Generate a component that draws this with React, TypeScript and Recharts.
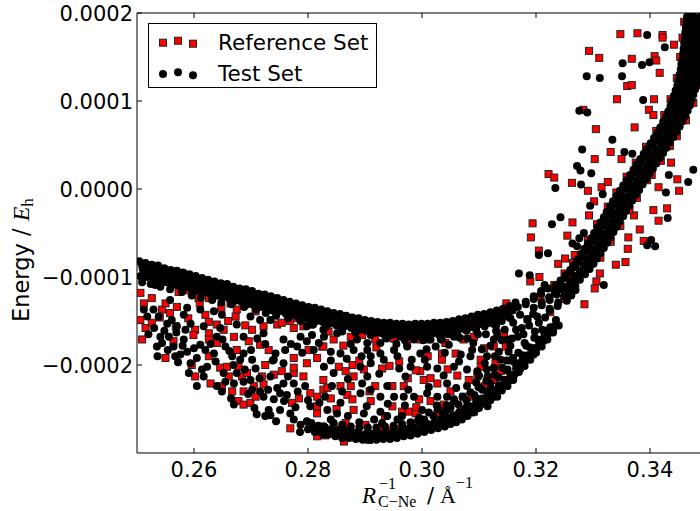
import React from 'react';
import { ScatterChart, Scatter, XAxis, YAxis, ReferenceLine, Legend } from 'recharts';

// Axis settings (x in Å^-1, y in Hartree)
const xDomain: [number, number] = [0.25, 0.35];
const yDomain: [number, number] = [-0.0003, 0.0002];
const xTicks = [0.26, 0.28, 0.3, 0.32, 0.34];
const yTicks = [-0.0002, -0.0001, 0, 0.0001, 0.0002];
const seriesNames = ['Reference Set', 'Test Set'];

// Points in units of [mÅ^-1, μEh]
const testUpperBand: [number, number][] = [
  [250.4,-82],[251.5,-84],[252.6,-86],[253.7,-87],[254.8,-90],[255.9,-92],[257.0,-93],[258.1,-95],[259.2,-97],[260.3,-99],
  [261.4,-101],[262.5,-103],[263.6,-105],[264.7,-107],[265.8,-108],[266.9,-111],[268.0,-113],[269.1,-114],[270.2,-116],[271.3,-119],
  [272.4,-120],[273.5,-122],[274.6,-124],[275.7,-126],[276.8,-128],[277.9,-130],[279.0,-132],[280.1,-134],[281.2,-135],[282.3,-137],
  [283.4,-139],[284.5,-141],[285.6,-142],[286.7,-144],[287.8,-146],[288.9,-147],[290.0,-149],[291.1,-150],[292.2,-151],[293.3,-152],
  [294.4,-152],[295.5,-153],[296.6,-153],[297.7,-154],[298.8,-153],[299.9,-153],[301.0,-153],[302.1,-152],[303.2,-152],[304.3,-151],
  [305.4,-150],[306.5,-148],[307.6,-147],[308.7,-145],[309.8,-143],[310.9,-142],[312.0,-140],[313.1,-138],[314.2,-136],[315.3,-133],[316.4,-129],
  [250.9,-87],[252.0,-89],[253.1,-90],[254.2,-92],[255.3,-95],[256.4,-96],[257.5,-98],[258.6,-100],[259.7,-102],[260.8,-104],
  [261.9,-106],[263.0,-108],[264.1,-110],[265.2,-111],[266.3,-113],[267.4,-116],[268.5,-117],[269.6,-119],[270.7,-121],[271.8,-123],
  [272.9,-125],[274.0,-127],[275.1,-129],[276.2,-131],[277.3,-133],[278.4,-135],[279.5,-137],[280.6,-139],[281.7,-140],[282.8,-142],
  [283.9,-144],[285.0,-146],[286.1,-147],[287.2,-149],[288.3,-150],[289.4,-152],[290.5,-153],[291.6,-155],[292.7,-155],[293.8,-156],
  [294.9,-157],[296.0,-157],[297.1,-158],[298.2,-158],[299.3,-158],[300.4,-157],[301.5,-157],[302.6,-156],[303.7,-156],[304.8,-155],
  [305.9,-153],[307.0,-152],[308.1,-150],[309.2,-149],[310.3,-147],[311.4,-145],[312.5,-143],[313.6,-141],[314.7,-138],[315.8,-135],
  [251.0,-91],[252.1,-93],[253.2,-95],[254.3,-96],[255.4,-99],[256.5,-101],[257.6,-102],[258.7,-104],[259.8,-106],[260.9,-108],
  [262.0,-110],[263.1,-112],[264.2,-114],[265.3,-115],[266.4,-117],[267.5,-120],[268.6,-121],[269.7,-123],[270.8,-125],[271.9,-127],
  [273.0,-129],[274.1,-130],[275.2,-133],[276.3,-134],[277.4,-136],[278.5,-139],[279.6,-140],[280.7,-142],[281.8,-144],[282.9,-146],
  [284.0,-147],[285.1,-149],[286.2,-150],[287.3,-152],[288.4,-154],[289.5,-155],[290.6,-156],[291.7,-158],[292.8,-159],[293.9,-160],
  [295.0,-160],[296.1,-161],[297.2,-161],[298.3,-161],[299.4,-161],[300.5,-161],[301.6,-160],[302.7,-160],[303.8,-159],[304.9,-158],
  [306.0,-157],[307.1,-155],[308.2,-153],[309.3,-152],[310.4,-150],[311.5,-148],[312.6,-146],[313.7,-144],[314.8,-141],[315.9,-138],
  [251.3,-96],[252.4,-98],[253.5,-100],[254.6,-102],[255.7,-104],[256.8,-106],[257.9,-107],[259.0,-109],[260.1,-111],[261.2,-113],
  [262.3,-115],[263.4,-117],[264.5,-119],[265.6,-120],[266.7,-122],[267.8,-125],[268.9,-126],[270.0,-128],[271.1,-130],[272.2,-132],
  [273.3,-134],[274.4,-136],[275.5,-138],[276.6,-139],[277.7,-141],[278.8,-143],[279.9,-145],[281.0,-147],[282.1,-148],[283.2,-150],
  [284.3,-152],[285.4,-154],[286.5,-155],[287.6,-157],[288.7,-159],[289.8,-160],[290.9,-162],[292.0,-163],[293.1,-163],[294.2,-164],
  [295.3,-165],[296.4,-165],[297.5,-165],[298.6,-165],[299.7,-165],[300.8,-165],[301.9,-164],[303.0,-164],[304.1,-163],[305.2,-162],
  [306.3,-160],[307.4,-159],[308.5,-157],[309.6,-155],[310.7,-154],[311.8,-152],[312.9,-150],[314.0,-147],[315.1,-145],
  [250.6,-99],[251.8,-100],[253.0,-103],[254.0,-104],[255.2,-106],[256.2,-109],[257.3,-110],[258.4,-112],[259.5,-114],[260.6,-115],
  [261.7,-118],[262.8,-119],[263.9,-121],[265.0,-123],[266.1,-124],[267.2,-127],[268.3,-128],[269.4,-131],[270.5,-132],[271.6,-134],
  [272.7,-136],[273.8,-138],[274.9,-139],[276.0,-141],[277.1,-143],[278.2,-145],[279.3,-147],[280.4,-148],[281.5,-150],[282.6,-151],
  [283.7,-153],[285.0,-155],[286.4,-156],[287.6,-158],[289.0,-160],[290.3,-161],[291.5,-163],[293.0,-164],[294.6,-166],[296.0,-166],
  [297.8,-167],[299.5,-167],[301.2,-167],[303.0,-166],[304.6,-165],[306.2,-163],[307.8,-161],[309.4,-158],[311.0,-156],[312.5,-153],
  [314.0,-150],[315.5,-147],
  [250.9,-106],[252.4,-108],[254.1,-111],[255.8,-114],[257.9,-117],[259.6,-121],[261.2,-124],[263.2,-126],[264.8,-129],[266.6,-131],
  [268.8,-134],[270.9,-137],[272.6,-141],[274.4,-144],[276.5,-147],[278.7,-150],[280.9,-154],[283.1,-157],[285.8,-160],[288.3,-163],
  [291.0,-166],[293.8,-170],[297.0,-172],[300.2,-172],[303.5,-171],[306.6,-169],[309.8,-165],[313.0,-161],
];

const testLowerBand: [number, number][] = [
  [280.0,-273],[281.2,-276],[282.4,-277],[283.6,-279],[284.8,-281],[286.0,-283],[287.2,-283],[288.4,-284],[289.6,-285],[290.8,-285],
  [292.0,-285],[293.2,-284],[294.4,-284],[295.6,-283],[296.8,-281],[298.0,-280],[299.2,-278],[300.4,-276],[301.6,-274],[302.8,-272],
  [304.0,-270],[305.0,-267],[306.0,-265],[307.0,-262],[308.0,-258],[309.0,-254],[310.0,-249],[311.0,-244],[312.0,-240],[313.0,-235],
  [314.0,-229],[315.0,-224],[316.0,-217],[317.0,-208],[318.0,-201],[319.0,-194],[320.0,-186],[321.0,-179],[322.0,-171],[323.0,-163],[324.0,-155],
  [280.3,-270],[281.5,-273],[282.7,-274],[283.9,-276],[285.1,-278],[286.3,-279],[287.5,-280],[288.7,-281],[289.9,-282],[291.1,-282],
  [292.3,-282],[293.5,-281],[294.7,-280],[295.9,-279],[297.1,-277],[298.3,-276],[299.5,-274],[300.7,-272],[301.9,-270],[303.1,-267],
  [304.2,-265],[305.2,-262],[306.2,-260],[307.2,-256],[308.2,-253],[309.2,-249],[310.2,-244],[311.2,-239],[312.2,-234],[313.2,-229],
  [314.2,-223],[315.2,-218],[316.2,-211],[317.2,-202],[318.2,-195],[319.2,-188],[320.2,-180],[321.2,-172],[322.2,-164],[323.2,-156],
  [280.6,-266],[281.8,-269],[283.0,-271],[284.2,-273],[285.4,-274],[286.6,-275],[287.8,-277],[289.0,-278],[290.2,-278],[291.4,-278],
  [292.6,-278],[293.8,-277],[295.0,-276],[296.2,-275],[297.4,-273],[298.6,-271],[299.8,-269],[301.0,-267],[302.2,-265],[303.4,-262],
  [304.5,-260],[305.5,-257],[306.5,-254],[307.5,-250],[308.5,-247],[309.5,-243],[310.5,-238],[311.5,-233],[312.5,-228],[313.5,-223],
  [314.5,-217],[315.5,-211],[316.5,-204],[317.5,-196],[318.5,-189],[319.5,-181],[320.5,-173],[321.5,-165],[322.5,-157],[323.5,-149],
  [284.5,-266],[286.0,-268],[287.5,-270],[289.0,-271],[290.5,-271],[292.0,-271],[293.5,-270],[295.0,-269],[296.5,-267],[298.0,-265],[299.3,-263],
  [300.4,-262],[302.0,-258],[303.6,-254],[305.0,-249],[306.4,-245],[307.8,-240],[309.2,-234],[310.6,-228],[312.0,-221],[313.4,-214],
  [314.8,-206],[316.2,-197],[317.6,-189],[319.0,-180],[320.4,-171],[321.8,-161],
  [301.2,-254],[302.8,-250],[304.3,-246],[305.7,-241],[307.1,-236],[308.5,-231],[309.9,-225],[311.3,-218],[312.7,-211],[314.1,-203],
  [315.5,-195],[316.9,-186],[318.3,-178],[319.7,-169],[321.1,-160],
];

const testJunction: [number, number][] = [
  [311.5,-150],[313.0,-155],[314.5,-160],[316.0,-152],[317.5,-158],[318.5,-148],[319.5,-142],[320.5,-152],[316.8,-168],[318.0,-175],
  [315.2,-185],[312.8,-190],[314.0,-172],[311.2,-165],[317.2,-143],[319.8,-162],[321.6,-146],[322.4,-138],
  [309.0,-175],[310.5,-182],[312.0,-178],[313.5,-185],[315.5,-178],[316.5,-160],[314.8,-195],[311.0,-198],[309.5,-160],[313.2,-167],
  [315.8,-170],[317.8,-165],[308.0,-170],[310.0,-212],[312.6,-203],[316.0,-192],[318.8,-155],[320.2,-145],[309.5,-238],[311.5,-247],
];

const testRisingBand: [number, number][] = [
  [316.8,-134],[318.2,-131],[319.6,-135],[321.0,-132],[322.4,-136],[323.8,-133],
  [318.2,-128],[319.6,-125],[321.0,-129],[322.4,-126],[323.9,-129],[325.4,-127],
  [319.6,-122],[320.9,-119],[322.3,-123],[323.6,-120],[324.9,-122],[326.2,-121],
  [320.9,-116],[322.1,-113],[323.3,-117],[324.5,-114],[325.7,-116],[326.9,-115],
  [323.4,-110],[324.3,-107],[325.1,-111],[326.0,-108],[326.8,-109],
  [324.3,-104],[325.2,-101],[326.0,-105],[326.9,-102],[327.7,-103],
  [325.2,-98],[326.1,-95],[326.9,-99],[327.8,-96],[328.6,-97],
  [326.0,-92],[326.9,-89],[327.7,-93],[328.6,-90],[329.4,-91],
  [326.7,-86],[327.6,-83],[328.4,-87],[329.3,-84],[330.1,-85],
  [327.3,-80],[328.2,-77],[329.0,-81],[329.9,-78],[330.7,-79],
  [327.9,-74],[328.8,-71],[329.6,-75],[330.5,-72],[331.3,-73],
  [328.5,-68],[329.4,-65],[330.2,-69],[331.1,-66],[331.9,-67],
  [329.1,-62],[330.0,-59],[330.8,-63],[331.7,-60],[332.5,-61],
  [329.7,-56],[330.6,-53],[331.4,-57],[332.3,-54],[333.1,-55],
  [330.2,-50],[331.1,-47],[331.9,-51],[332.8,-48],[333.6,-49],
  [330.8,-44],[331.7,-41],[332.5,-45],[333.4,-42],[334.2,-43],
  [331.3,-38],[332.2,-35],[333.0,-39],[333.9,-36],[334.7,-37],
  [331.9,-32],[332.8,-29],[333.6,-33],[334.5,-30],[335.3,-31],
  [332.4,-26],[333.3,-23],[334.1,-27],[335.0,-24],[335.8,-25],
  [333.0,-20],[333.9,-17],[334.7,-21],[335.6,-18],[336.4,-19],
  [333.5,-14],[334.4,-11],[335.2,-15],[336.1,-12],[336.9,-13],
  [334.1,-8],[335.0,-5],[335.8,-9],[336.7,-6],[337.5,-7],
  [334.7,-2],[335.6,1],[336.4,-3],[337.3,0],[338.1,-1],
  [335.3,4],[336.2,7],[337.0,3],[337.9,6],[338.7,5],
  [335.9,10],[336.8,13],[337.6,9],[338.5,12],[339.3,11],
  [336.5,16],[337.4,19],[338.2,15],[339.1,18],[339.9,17],
  [337.1,22],[338.0,25],[338.8,21],[339.7,24],[340.5,23],
  [337.7,28],[338.6,31],[339.4,27],[340.3,30],[341.1,29],
  [338.3,34],[339.2,37],[340.0,33],[340.9,36],[341.7,35],
  [338.9,40],[339.8,43],[340.6,39],[341.5,42],[342.3,41],
  [339.5,46],[340.4,49],[341.2,45],[342.1,48],[342.9,47],
  [340.1,52],[341.0,55],[341.8,51],[342.7,54],[343.5,53],
  [340.7,58],[341.6,61],[342.4,57],[343.3,60],[344.1,59],
  [341.3,64],[342.2,67],[343.0,63],[343.9,66],[344.7,65],
  [341.8,70],[342.7,73],[343.5,69],[344.4,72],[345.2,71],
  [342.3,76],[343.2,79],[344.0,75],[344.9,78],[345.7,77],
  [342.8,82],[343.7,85],[344.5,81],[345.4,84],[346.2,83],
  [343.2,88],[344.1,91],[344.9,87],[345.8,90],[346.6,89],
  [343.6,94],[344.5,97],[345.3,93],[346.2,96],[347.0,95],
  [343.9,100],[344.8,103],[345.6,99],[346.5,102],[347.3,101],
  [344.2,106],[345.1,109],[345.9,105],[346.8,108],[347.6,107],
  [344.5,112],[345.4,115],[346.2,111],[347.1,114],[347.9,113],
  [344.8,118],[345.7,121],[346.5,117],[347.4,120],[348.2,119],
  [345.0,124],[345.9,127],[346.7,123],[347.6,126],[348.4,125],
  [345.2,130],[346.1,133],[346.9,129],[347.8,132],[348.6,131],
  [345.4,136],[346.3,139],[347.1,135],[348.0,138],[348.8,137],
  [345.5,142],[346.4,145],[347.2,141],[348.1,144],[348.9,143],
  [345.7,148],[346.6,151],[347.4,147],[348.3,150],[349.1,149],
  [345.8,154],[346.7,157],[347.5,153],[348.4,156],[349.2,155],
  [345.9,160],[346.8,163],[347.6,159],[348.5,162],[349.3,161],
  [346.0,166],[346.9,169],[347.7,165],[348.6,168],[349.4,167],
  [346.1,172],[347.0,175],[347.8,171],[348.7,174],[349.5,173],
  [346.2,178],[347.1,181],[347.9,177],[348.8,180],[349.6,179],
  [346.3,184],[347.2,187],[348.0,183],[348.9,186],[349.7,185],
  [346.4,190],[347.3,193],[348.1,189],[349.0,192],[349.8,191],
  [346.5,196],[347.4,198],[348.2,195],[349.0,197],
];

const testScatterLeft: [number, number][] = [
  [250.9,-101],[252.0,-96],[253.2,-109],[252.9,-137],[253.8,-145],[256.1,-149],[257.0,-156],[255.6,-168],[253.5,-179],[254.4,-175],
  [256.4,-179],[257.6,-188],[258.8,-185],[258.2,-171],[261.1,-177],[262.0,-183],[260.5,-192],[263.5,-187],[261.4,-205],[261.7,-213],
  [264.0,-224],[264.9,-230],[260.5,-224],[262.3,-202],[259.1,-209],[259.4,-198],[256.7,-190],[264.0,-168],[265.5,-179],[266.7,-190],
  [268.7,-187],[268.1,-194],[270.2,-194],[270.8,-204],[267.5,-209],[268.7,-219],[265.5,-219],[267.0,-221],[269.9,-217],[271.6,-230],
  [270.2,-228],[272.2,-236],[273.1,-251],[274.0,-239],[273.4,-257],[272.5,-258],[275.1,-251],[276.9,-255],[277.5,-262],[278.7,-268],
  [279.8,-264],[281.9,-275],[282.7,-279],[280.4,-247],[279.5,-224],[277.5,-221],[275.7,-221],[274.6,-226],[275.7,-198],[274.0,-194],
  [274.3,-187],[275.7,-171],[278.7,-168],[279.8,-173],[281.9,-175],[282.7,-160],[280.7,-166],[278.1,-179],[272.2,-164],[271.1,-170],
  [268.7,-168],[264.6,-158],[261.7,-156],[259.4,-153],[258.2,-143],[255.3,-153],[251.8,-145],[251.2,-137],[254.1,-168],[255.8,-126],
  [258.8,-135],[261.1,-137],[263.5,-139],[264.9,-143],[269.9,-145],[271.6,-149],[273.4,-149],[274.6,-139],[276.3,-143],[267.5,-154],
  [273.4,-213],[275.1,-232],[276.3,-234],
  [253.0,-158],[254.8,-161],[256.9,-163],[258.0,-178],[260.0,-181],[262.9,-176],[265.0,-171],[266.2,-184],[263.8,-196],[265.2,-209],
  [266.9,-200],[268.9,-205],[270.0,-183],[272.5,-176],[273.8,-195],[276.0,-183],[277.0,-176],[279.0,-186],[281.0,-183],[276.5,-213],
  [278.2,-230],[280.0,-240],[282.0,-243],[277.8,-248],[275.8,-241],[273.0,-228],[271.5,-215],[269.5,-233],[266.5,-238],[270.6,-249],
  [274.4,-264],[278.6,-276],[271.0,-256],[267.0,-245],[257.2,-197],[255.4,-183],[253.6,-190],[252.0,-165],[258.5,-160],[279.8,-156],
];

const testScatterMiddle: [number, number][] = [
  [282.8,-168],[285.1,-164],[286.0,-162],[288.6,-171],[290.4,-175],[292.7,-175],[296.2,-168],[298.6,-171],[301.5,-171],[303.3,-171],
  [305.6,-168],[308.8,-183],[306.8,-188],[304.7,-177],[302.4,-179],[299.7,-187],[297.4,-179],[295.1,-183],[292.7,-187],[290.4,-183],
  [288.0,-183],[285.7,-187],[284.0,-185],[282.8,-202],[284.5,-209],[289.2,-202],[291.0,-198],[293.3,-194],[295.7,-190],[298.0,-202],
  [300.9,-202],[302.7,-204],[305.6,-202],[307.9,-205],[309.7,-207],[311.4,-205],[313.8,-194],[315.0,-205],[307.9,-224],[310.3,-226],
  [312.0,-228],[313.2,-236],[311.4,-239],[309.7,-247],[307.9,-247],[305.6,-239],[304.4,-236],[302.7,-236],[300.9,-232],[298.6,-236],
  [296.8,-236],[295.1,-236],[292.7,-236],[291.0,-228],[289.2,-232],[285.7,-243],[283.4,-251],[282.8,-270],[285.1,-255],[289.8,-255],
  [292.7,-253],[293.9,-258],[295.7,-262],[298.0,-266],[300.3,-266],[302.1,-268],[304.4,-251],[306.2,-258],[288.0,-277],[291.6,-262],
  [289.5,-221],[293.9,-224],[297.1,-213],[304.4,-221],[284.2,-224],[308.5,-190],[311.4,-190],[312.6,-171],[315.0,-171],
  [284.0,-195],[286.8,-193],[289.4,-190],[287.0,-216],[290.4,-213],[292.5,-210],[296.0,-204],[298.2,-194],[300.5,-194],[303.8,-212],
  [306.0,-226],[301.2,-225],[297.6,-228],[294.0,-244],[297.0,-246],[300.0,-251],[302.6,-246],[305.0,-246],[290.3,-247],[287.0,-258],
  [289.0,-265],[293.0,-266],[296.5,-258],[299.5,-260],[284.0,-262],[283.0,-236],[286.0,-230],[309.5,-220],[311.5,-213],[306.5,-196],
  [304.0,-186],[295.5,-176],[291.0,-190],[287.5,-176],[300.8,-182],
];

const testScatterRight: [number, number][] = [
  [329.5,-19],[324.3,-32],[322.8,-40],[328.4,-50],[327.6,-56],[327.2,-65],[326.4,-62],[320.5,-75],[322.1,-73],[317.0,-96],
  [318.9,-98],[321.5,-109],[331.9,-109],[343.1,-33],[340.2,-58],[339.5,-64],[340.9,-65],
  [339.5,175],[342.6,161],[335.2,143],[338.6,141],[339.9,144],[328.9,128],[331.2,126],[335.1,128],[338.8,101],[327.6,89],
  [329.0,87],[333.4,56],[328.1,45],[335.5,42],[336.9,40],[327.2,26],[327.8,21],[329.7,18],[323.4,1],[327.9,5],[331.7,-6],
  [347.6,22],[346.7,8],[342.8,-4],[343.3,16],
];

const refScatterLeft: [number, number][] = [
  [250.6,-118],[251.2,-130],[250.6,-149],[251.5,-158],[252.6,-152],[250.9,-171],[252.6,-124],[254.4,-137],[255.0,-130],[255.8,-141],
  [257.0,-134],[257.6,-107],[257.3,-117],[258.8,-115],[260.5,-120],[260.8,-124],[262.6,-124],[263.2,-120],[262.0,-143],[262.6,-151],
  [264.0,-154],[265.2,-160],[267.3,-145],[267.5,-137],[266.4,-130],[267.5,-115],[269.3,-118],[270.8,-139],[270.2,-160],[272.2,-156],
  [274.6,-154],[275.4,-152],[277.5,-158],[278.1,-147],[279.2,-156],[280.4,-154],[282.5,-145],[281.6,-149],[277.5,-141],[255.0,-192],
  [256.4,-173],[260.2,-160],[259.9,-166],[262.6,-164],[262.6,-171],[264.0,-175],[259.6,-200],[260.2,-213],[262.6,-190],[262.9,-221],
  [264.6,-203],[265.8,-202],[266.1,-213],[267.8,-202],[268.4,-213],[269.3,-209],[267.5,-183],[267.0,-168],[269.6,-173],[271.6,-177],
  [273.1,-183],[272.5,-200],[271.9,-213],[272.2,-222],[270.5,-224],[268.7,-230],[266.7,-230],[264.9,-224],[267.8,-241],[268.7,-245],
  [269.9,-243],[270.8,-236],[274.0,-211],[275.4,-207],[277.5,-192],[277.5,-209],[279.2,-213],[279.8,-198],[282.5,-179],[280.1,-183],
  [281.6,-192],[277.5,-203],[280.4,-232],[281.6,-236],[282.7,-228],[282.7,-217],[281.6,-255],[281.6,-247],[278.4,-238],[276.9,-272],
  [280.4,-270],[281.6,-281],[282.5,-270],[277.2,-243],
  [254.0,-146],[256.8,-156],[259.0,-147],[261.0,-130],[264.8,-135],[266.0,-150],[269.0,-155],[271.0,-125],[273.6,-131],[276.8,-150],
  [279.5,-143],
];

const refScatterMiddle: [number, number][] = [
  [282.7,-179],[284.5,-171],[287.5,-168],[289.5,-166],[291.8,-171],[293.6,-166],[295.1,-170],[297.4,-175],[299.7,-171],[300.9,-171],
  [304.1,-175],[305.9,-187],[303.5,-187],[303.5,-194],[307.3,-171],[309.1,-168],[310.9,-181],[312.6,-179],[314.7,-179],[314.4,-164],
  [314.8,-130],[310.3,-194],[310.3,-202],[312.9,-198],[313.8,-207],[312.6,-217],[314.7,-217],[309.7,-213],[306.2,-212],[308.2,-217],
  [299.7,-207],[300.3,-217],[298.9,-206],[301.5,-215],[302.7,-221],[296.8,-224],[294.8,-224],[293.0,-204],[294.3,-201],[291.8,-224],
  [289.8,-205],[288.0,-213],[287.8,-200],[285.4,-202],[286.6,-207],[283.4,-226],[285.7,-224],[287.5,-224],[286.9,-234],[287.8,-239],
  [284.0,-238],[288.0,-251],[291.0,-241],[290.1,-268],[286.6,-266],[286.3,-287],[284.5,-270],[292.7,-272],[294.8,-247],[296.5,-253],
  [297.7,-253],[298.9,-255],[301.5,-241],[299.5,-239],[302.7,-255],[303.3,-262],[303.8,-245],[307.3,-236],[308.8,-236],[306.8,-251],
  [296.2,-273],[297.4,-273],[294.2,-275],[290.7,-285],[299.7,-275],[305.6,-262],[309.1,-253],
  [283.6,-162],[286.2,-178],[289.0,-195],[292.0,-180],[296.0,-196],[301.0,-190],[304.5,-205],[297.5,-215],[290.8,-230],[285.0,-250],
  [293.5,-258],[299.0,-248],[305.0,-230],[311.0,-224],
];

const refScatterRight: [number, number][] = [
  [340.6,-24],[343.0,-22],[341.5,-36],[338.2,-46],[336.2,-55],[338.9,-59],[335.7,-83],[334.0,-86],[331.2,-96],[330.6,-105],
  [330.3,-113],[328.5,-131],[325.5,-53],[323.9,-85],[320.6,-100],[319.0,-105],[319.4,-39],[319.1,-55],[326.4,-38],[329.3,-30],
  [330.2,-14],[337.2,-30],[336.1,-68],[320.5,-70],[326.8,-75],[325.1,-79],
  [334.8,176],[337.8,177],[342.2,175],[342.2,172],[344.2,164],[329.3,157],[331.1,149],[336.8,148],[340.8,151],[341.1,146],
  [341.7,132],[336.0,117],[336.8,118],[334.2,102],[340.7,102],[339.8,90],[340.6,84],[330.5,68],[337.3,70],[333.1,42],
  [330.3,34],[335.0,34],[322.2,17],[323.2,13],[326.3,7],[329.1,-2],[331.5,2],[332.6,8],[339.5,10],[343.7,30],
  [344.8,11],[345.1,-2],[341.5,2],[328.3,90],
];

const refAlongCurve: [number, number][] = [
  [252.2,-98],[255.0,-104],[258.5,-110],[261.8,-112],[264.5,-121],[268.0,-124],[271.2,-130],[274.8,-136],[278.0,-142],[281.0,-146],
  [284.6,-150],[288.2,-156],[291.8,-159],[295.5,-163],[299.0,-163],[303.0,-160],[306.5,-156],[310.2,-152],[313.6,-146],
  [256.8,-96],[265.5,-110],[276.0,-131],[289.5,-150],[300.5,-157],[309.0,-147],
  [283.0,-280],[287.5,-279],[292.5,-282],[296.5,-279],[301.8,-270],[305.8,-262],[309.2,-250],[312.2,-236],[314.8,-221],[317.2,-203],
  [319.4,-188],[321.2,-172],[323.0,-158],
  [320.8,-122],[323.2,-109],[325.0,-96],[326.5,-84],[331.3,-78],[329.1,-58],[333.1,-60],[330.7,-40],[334.8,-42],[332.6,-20],
  [336.4,-24],[334.1,-4],[337.7,-10],[335.9,14],[340.3,16],[337.5,30],[341.9,32],[339.3,48],[343.5,49],[341.1,66],
  [344.7,60],[342.5,84],[346.3,78],[343.6,102],[347.6,98],[344.7,126],[348.6,118],[345.3,150],[349.3,142],[345.7,172],
  [349.6,166],[346.0,190],[349.7,186],[322.5,-140],[318.5,-148],[325.0,-125],[326.9,-112],
  [326.3,-100],[328.9,-70],[331.0,-45],[333.6,-28],[335.4,-12],[336.9,2],[338.6,18],[340.1,36],[341.9,54],[343.4,72],
  [344.6,90],[346.0,110],[347.3,135],[347.9,160],[348.5,180],
];

const toPoints = (pts: [number, number][]) => pts.map(([x, y]) => ({ x: x / 1000, y: y / 1e6 }));

const referenceData = toPoints([...refScatterLeft, ...refScatterMiddle, ...refScatterRight, ...refAlongCurve]);
const testData = toPoints([
  ...testUpperBand, ...testLowerBand, ...testJunction, ...testRisingBand,
  ...testScatterLeft, ...testScatterMiddle, ...testScatterRight,
]);

const CHART_W = 715;
const CHART_H = 511;
const PLOT_LEFT = 137;
const PLOT_TOP = 13;
const X_AXIS_H = 58;
const PLOT_BOTTOM = CHART_H - X_AXIS_H;
const SANS = 'DejaVu Sans';
const SERIF = 'Liberation Serif';
const TICK_FONT = 21;

const fmtY = (v: number) => {
  if (Math.abs(v) < 1e-12) return '0.0000';
  const s = Math.abs(v).toFixed(4);
  return v < 0 ? '\u2212' + s : s;
};

const XTick = (props: any) => {
  const { x, payload } = props;
  return (
    <g>
      <line x1={x} x2={x} y1={PLOT_BOTTOM} y2={PLOT_BOTTOM - 5} stroke="#000" strokeWidth={1} />
      <line x1={x} x2={x} y1={PLOT_TOP} y2={PLOT_TOP + 5} stroke="#000" strokeWidth={1} />
      <text x={x} y={477} textAnchor="middle" fontFamily={SANS} fontSize={TICK_FONT} fill="#000">
        {Number(payload.value).toFixed(2)}
      </text>
    </g>
  );
};

const YTick = (props: any) => {
  const { y, payload } = props;
  return (
    <g>
      <line x1={PLOT_LEFT} x2={PLOT_LEFT + 5} y1={y} y2={y} stroke="#000" strokeWidth={1} />
      <text x={133} y={y} dy="0.36em" textAnchor="end" fontFamily={SANS} fontSize={TICK_FONT} fill="#000">
        {fmtY(Number(payload.value))}
      </text>
    </g>
  );
};

const XLabel = () => (
  <g fill="#000">
    <text x={362} y={503} fontFamily={SERIF} fontStyle="italic" fontSize={23}>R</text>
    <text x={379} y={489} fontFamily={SERIF} fontSize={16}>{'\u22121'}</text>
    <text x={378} y={507} fontFamily={SERIF} fontSize={16}>{'C\u2212Ne'}</text>
    <text x={427} y={503} fontFamily={SANS} fontSize={21}>/</text>
    <text x={440} y={503} fontFamily={SERIF} fontSize={22}>{'\u00C5'}</text>
    <text x={456} y={488} fontFamily={SERIF} fontSize={16}>{'\u22121'}</text>
  </g>
);

const YLabel = () => (
  <text transform="rotate(-90)" x={-322} y={29} fontFamily={SANS} fontSize={22.5} fill="#000">
    {'Energy / '}
    <tspan fontFamily={SERIF} fontStyle="italic" fontSize={24}>E</tspan>
    <tspan fontFamily={SERIF} fontSize={17} dy={4}>h</tspan>
  </text>
);

const RedSquare = (props: any) => {
  const { cx, cy } = props;
  if (cx == null || cy == null) return null;
  return <rect x={cx - 3.5} y={cy - 3.5} width={7} height={7} fill="#ff0000" stroke="#222" strokeWidth={1} />;
};

const BlackDot = (props: any) => {
  const { cx, cy } = props;
  if (cx == null || cy == null) return null;
  return <circle cx={cx} cy={cy} r={4} fill="#000" />;
};

const LegendBox = () => (
  <svg width={229} height={65} style={{ display: 'block' }}>
    <rect x={0.5} y={0.5} width={228} height={64} fill="#fff" stroke="#000" strokeWidth={1} />
    {[[15, 19.7], [30, 17.7], [45, 20.7]].map(([cx, cy], i) => (
      <rect key={'s' + i} x={cx - 3.5} y={cy - 3.5} width={7} height={7} fill="#ff0000" stroke="#222" strokeWidth={1} />
    ))}
    {[[15, 51], [30, 49.3], [45, 52.3]].map(([cx, cy], i) => (
      <circle key={'c' + i} cx={cx} cy={cy} r={4} fill="#000" />
    ))}
    <text x={70} y={27} fontFamily={SANS} fontSize={21.5} fill="#000">{seriesNames[0]}</text>
    <text x={70} y={58} fontFamily={SANS} fontSize={21.5} fill="#000">{seriesNames[1]}</text>
  </svg>
);

export default function App() {
  return (
    <div style={{ position: 'absolute', left: 0, top: 0, width: 700, height: 511, overflow: 'hidden', background: '#fff' }}>
      <ScatterChart width={CHART_W} height={CHART_H} margin={{ top: PLOT_TOP, right: 8, bottom: 0, left: 0 }}>
        <XAxis
          dataKey="x"
          type="number"
          domain={xDomain}
          ticks={xTicks}
          interval={0}
          allowDataOverflow
          height={X_AXIS_H}
          tickLine={false}
          tickSize={0}
          axisLine={{ stroke: '#000', strokeWidth: 1 }}
          tick={<XTick />}
          label={{ content: () => <XLabel /> }}
        />
        <YAxis
          dataKey="y"
          type="number"
          domain={yDomain}
          ticks={yTicks}
          interval={0}
          allowDataOverflow
          width={PLOT_LEFT}
          tickLine={false}
          tickSize={0}
          axisLine={{ stroke: '#000', strokeWidth: 1 }}
          tick={<YTick />}
          label={{ content: () => <YLabel /> }}
        />
        <ReferenceLine y={yDomain[1]} stroke="#000" strokeWidth={1} />
        <ReferenceLine x={xDomain[1]} stroke="#000" strokeWidth={1} />
        <Scatter name={seriesNames[0]} data={referenceData} shape={<RedSquare />} isAnimationActive={false} />
        <Scatter name={seriesNames[1]} data={testData} shape={<BlackDot />} isAnimationActive={false} />
        <Legend
          layout="vertical"
          align="center"
          verticalAlign="middle"
          content={() => <LegendBox />}
          wrapperStyle={{ position: 'absolute', left: 148, top: 23, width: 229, height: 65 }}
        />
      </ScatterChart>
    </div>
  );
}
